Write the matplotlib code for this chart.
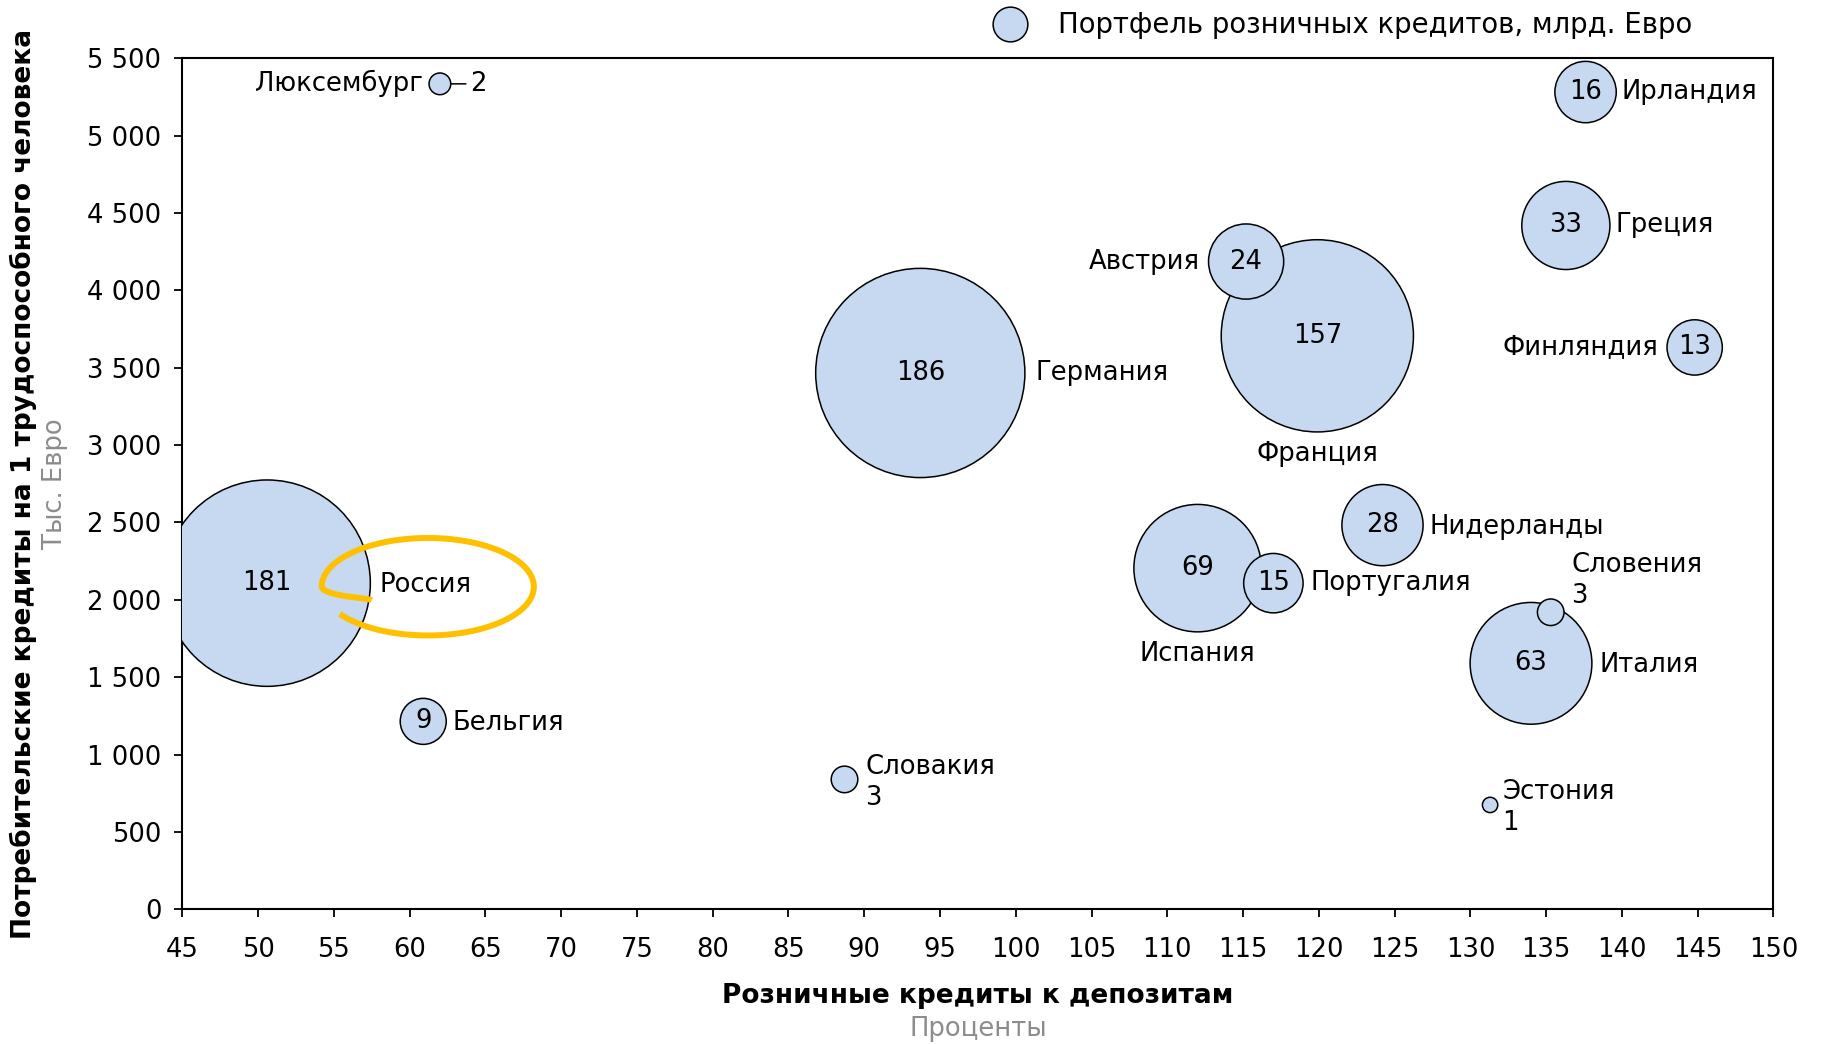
import numpy as np
import matplotlib
matplotlib.use('Agg')
import matplotlib.pyplot as plt
from matplotlib.ticker import FuncFormatter, MultipleLocator
from matplotlib.lines import Line2D

# data
countries = ['Люксембург', 'Ирландия', 'Греция', 'Австрия', 'Франция', 'Финляндия',
             'Германия', 'Россия', 'Бельгия', 'Словакия', 'Испания', 'Португалия',
             'Нидерланды', 'Словения', 'Италия', 'Эстония']
loans_to_deposits = [62.0, 137.6, 136.3, 115.2, 119.9, 144.8, 93.7, 50.6, 60.9, 88.7,
                     112.0, 117.0, 124.2, 135.3, 134.0, 131.3]
loans_per_capita = [5334, 5281, 4419, 4186, 3706, 3631, 3466, 2108, 1215, 840,
                    2205, 2108, 2483, 1920, 1590, 675]
portfolio = [2, 16, 33, 24, 157, 13, 186, 181, 9, 3, 69, 15, 28, 3, 63, 1]

# label placement: (dx, dy) in points, ha, number inside bubble?
label_pos = {
    'Люксембург': (-12.5, 0, 'right', False),
    'Ирландия': (26, 0, 'left', True),
    'Греция': (36, 0, 'left', True),
    'Австрия': (-33.5, 0, 'right', True),
    'Франция': (0, -85, 'center', True),
    'Финляндия': (-26, 0, 'right', True),
    'Германия': (83, 0, 'left', True),
    'Россия': (81, -1, 'left', True),
    'Бельгия': (21, -1, 'left', True),
    'Словакия': (15, -2, 'left', False),
    'Испания': (0, -62, 'center', True),
    'Португалия': (27, 0, 'left', True),
    'Нидерланды': (34, -1, 'left', True),
    'Словения': (15, 22.6, 'left', False),
    'Италия': (49, -1, 'left', True),
    'Эстония': (9, -2, 'left', False),
}

FILL = '#C6D9F1'
SIZE_K = 122
FS = 18.6

plt.rcParams['font.family'] = ['DejaVu Sans']

fig = plt.figure(figsize=(18.21, 10.44), dpi=100)
ax = fig.add_axes([0.1001, 0.1289, 0.8738, 0.8154])

x = np.array(loans_to_deposits)
y = np.array(loans_per_capita)
v = np.array(portfolio)
order = np.argsort(-v)
ax.scatter(x[order], y[order], s=v[order] * SIZE_K, c=FILL, edgecolors='black',
           linewidths=1.1, zorder=3)

for i, name in enumerate(countries):
    dx, dy, ha, inside = label_pos[name]
    if inside:
        ax.text(x[i], y[i], str(portfolio[i]), ha='center', va='center',
                fontsize=FS, zorder=5)
        txt = name
    elif name == 'Люксембург':
        txt = name
        r = np.sqrt(v[i] * SIZE_K) / 2
        ax.annotate(str(portfolio[i]), xy=(x[i], y[i]), xytext=(21.7, 0),
                    textcoords='offset points', ha='left', va='center', fontsize=FS,
                    arrowprops=dict(arrowstyle='-', lw=1.1, color='black',
                                    shrinkA=1, shrinkB=r))
    else:
        txt = name + '\n' + str(portfolio[i])
    ax.annotate(txt, xy=(x[i], y[i]), xytext=(dx, dy), textcoords='offset points',
                ha=ha, va='center', fontsize=FS, linespacing=1.25, zorder=5)

# hand-drawn highlight around Russia
ri = countries.index('Россия')
cx, cy = x[ri] + 10.6, y[ri] - 23
ax_r, by_r = 7.0, 315
theta = np.radians(np.linspace(-146, 208, 300))
t = np.clip((np.degrees(theta) - 180) / 28, 0, 1)
rad = 1 - 0.4 * (3 * t ** 2 - 2 * t ** 3)
ax.plot(cx + ax_r * rad * np.cos(theta), cy + by_r * rad * np.sin(theta),
        color='#FFC000', lw=4.3, solid_capstyle='butt', zorder=6)

ax.set_xlim(45, 150)
ax.set_ylim(0, 5500)
ax.xaxis.set_major_locator(MultipleLocator(5))
ax.yaxis.set_major_locator(MultipleLocator(500))
ax.yaxis.set_major_formatter(FuncFormatter(lambda val, p: f'{int(val):,}'.replace(',', ' ')))
ax.tick_params(axis='both', labelsize=FS, length=6, width=1.3, direction='out')
ax.tick_params(axis='x', pad=14)
ax.tick_params(axis='y', pad=9)
for sp in ax.spines.values():
    sp.set_linewidth(1.5)

mid_x = 0.1001 + 0.8738 / 2
mid_y = 0.1289 + 0.8154 / 2
fig.text(mid_x, 0.0455, 'Розничные кредиты к депозитам', ha='center', va='center',
         fontsize=19, fontweight='bold')
fig.text(mid_x, 0.0144, 'Проценты', ha='center', va='center', fontsize=FS, color='#8C8C8C')
fig.text(0.0127, mid_y, 'Потребительские кредиты на 1 трудоспособного человека',
         ha='center', va='center', rotation=90, fontsize=19, fontweight='bold')
fig.text(0.030, mid_y, 'Тыс. Евро', ha='center', va='center', rotation=90,
         fontsize=FS, color='#8C8C8C')

handle = Line2D([], [], marker='o', ls='', markersize=25, markerfacecolor=FILL,
                markeredgecolor='black', markeredgewidth=1.1)
ax.legend([handle], ['Портфель розничных кредитов, млрд. Евро'], loc='center left',
          bbox_to_anchor=(0.5432, 0.9756), bbox_transform=fig.transFigure,
          frameon=False, fontsize=19.8, handlelength=1.5, handletextpad=1.0,
          borderpad=0, borderaxespad=0)

fig.savefig('out.png', dpi=100)
